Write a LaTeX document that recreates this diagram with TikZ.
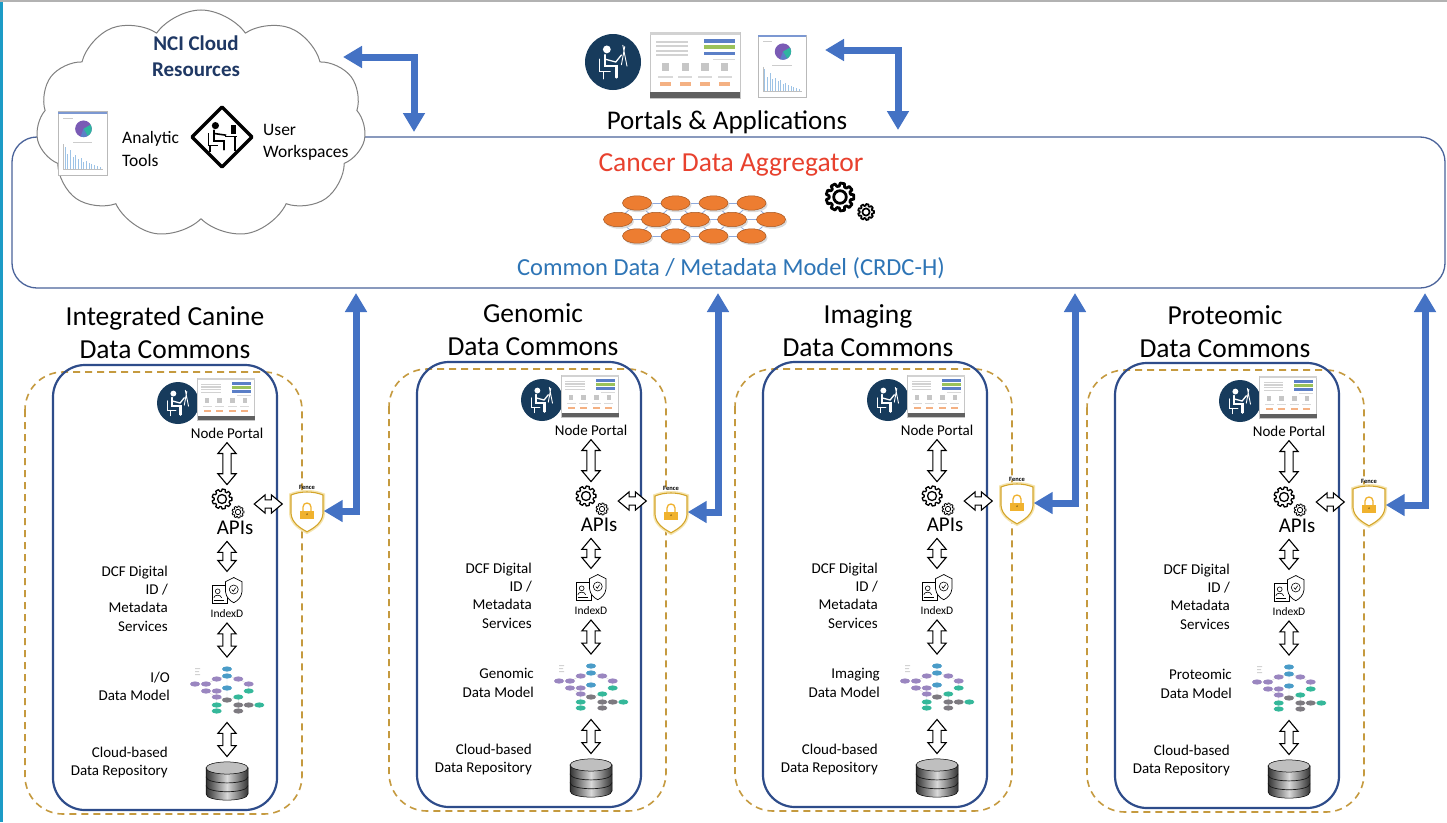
\documentclass[tikz,border=0pt]{standalone}
\usepackage{fontspec}
\setmainfont{Carlito}
\usetikzlibrary{shapes.symbols,shapes.arrows,arrows.meta,calc}

\definecolor{arrowblue}{HTML}{4472C4}
\definecolor{framenavy}{HTML}{2E4C8A}
\definecolor{aggframe}{HTML}{4A639A}
\definecolor{goldash}{HTML}{C59A3F}
\definecolor{cloudgray}{HTML}{808080}
\definecolor{titlenavy}{HTML}{1F3864}
\definecolor{aggred}{HTML}{E8412E}
\definecolor{modelblue}{HTML}{2E75B6}
\definecolor{iconnavy}{HTML}{173B5C}
\definecolor{nodeorange}{HTML}{ED7D31}
\definecolor{netline}{HTML}{8EA9DB}
\definecolor{edgeteal}{HTML}{1C9BC6}
\definecolor{barblue}{HTML}{5B7FC7}
\definecolor{bargreen}{HTML}{9BC25A}
\definecolor{barlight}{HTML}{9DC3E6}
\definecolor{btnorange}{HTML}{F4B183}
\definecolor{piepurple}{HTML}{7A5BB5}
\definecolor{pieteal}{HTML}{2FB5A0}
\definecolor{fencegold}{HTML}{D4A52A}
\definecolor{fenceglow}{HTML}{F5E4AE}
\definecolor{padgold}{HTML}{F0B22E}
\definecolor{mpurple}{HTML}{9A86C0}
\definecolor{mblue}{HTML}{4A9CC8}
\definecolor{mgreen}{HTML}{35B89A}
\definecolor{mgray}{HTML}{7D7A80}

\tikzset{
  barrow/.style={draw=arrowblue, line width=7pt,
    {Triangle[width=21pt,length=19pt]}-{Triangle[width=21pt,length=19pt]}},
  hollow/.style={double arrow, draw=black, fill=white, line width=1.1pt,
    inner xsep=0pt, inner ysep=3.6pt, double arrow head extend=5pt,
    double arrow tip angle=80, sloped, allow upside down},
  dashframe/.style={draw=goldash, line width=1.6pt, dash pattern=on 7pt off 5pt, rounded corners=38pt},
  solidframe/.style={draw=framenavy, line width=2.2pt, rounded corners=32pt},
  slot/.style={inner sep=0pt},
  ttl/.style={font=\fontsize{27.5}{33}\selectfont, align=center, inner sep=0pt},
  portallbl/.style={font=\fontsize{15}{18}\selectfont, inner sep=0pt},
  apilbl/.style={font=\fontsize{21}{25}\selectfont, inner sep=0pt},
  idxlbl/.style={font=\fontsize{11.5}{13}\selectfont, inner sep=0pt},
  sidelbl/.style={font=\fontsize{15}{18.3}\selectfont, align=right, anchor=east, inner sep=0pt},
  fencelbl/.style={font=\bfseries\fontsize{6.5}{7}\selectfont, inner sep=0pt},
  % small screen capture of a portal page
  portalshot/.pic={
    \draw[gray!45, fill=white, line width=0.4pt] (-0.5,-0.37) rectangle (0.5,0.37);
    \fill[gray!35] (-0.5,-0.37) rectangle (0.5,-0.335);
    \foreach \yy in {-0.27,-0.22,-0.17,-0.12}{\fill[gray!35] (-0.43,\yy) rectangle (-0.08,\yy+0.02);}
    \fill[barblue] (0.1,-0.29) rectangle (0.44,-0.25);
    \fill[bargreen] (0.1,-0.22) rectangle (0.44,-0.18);
    \fill[barblue] (0.1,-0.15) rectangle (0.44,-0.11);
    \fill[gray!30] (0.2,-0.07) rectangle (0.44,-0.055);
    \foreach \xx in {-0.33,-0.11,0.11,0.33}{
      \fill[gray!45] (\xx-0.04,-0.02) rectangle (\xx+0.04,0.07);
      \fill[gray!30] (\xx-0.08,0.12) rectangle (\xx+0.08,0.14);
      \fill[btnorange] (\xx-0.06,0.19) rectangle (\xx+0.06,0.23);
    }
    \fill[gray!75!black] (-0.5,0.3) rectangle (0.5,0.37);
  },
  % small screen capture of a chart report
  chartshot/.pic={
    \draw[gray!55, fill=white, line width=0.5pt] (-0.5,-0.65) rectangle (0.5,0.65);
    \fill[barblue!80] (-0.5,-0.65) rectangle (0.5,-0.61);
    \fill[gray!40] (-0.4,-0.53) rectangle (-0.2,-0.51);
    \fill[piepurple] (0.02,-0.3) circle (0.17);
    \fill[pieteal] (0.02,-0.3) -- ++(-30:0.17) arc[start angle=-30, end angle=60, radius=0.17] -- cycle;
    \fill[barblue] (0.02,-0.3) -- ++(60:0.17) arc[start angle=60, end angle=110, radius=0.17] -- cycle;
    \fill[gray!40] (-0.2,-0.03) rectangle (0.2,-0.01);
    \draw[gray!50, line width=0.3pt] (-0.4,0.02) -- (-0.4,0.52) -- (0.42,0.52);
    \foreach \i/\h in {0/0.45,1/0.3,2/0.38,3/0.25,4/0.28,5/0.2,6/0.22,7/0.15,8/0.17,9/0.12,10/0.1,11/0.08,12/0.06,13/0.05}{
      \draw[barlight, line width=0.7pt] (-0.36+\i*0.055,0.52) -- ++(0,-\h);}
  },
  % person at a desk inside a dark disc
  personpic/.pic={
    \fill[iconnavy] (0,0) circle (1);
    \begin{scope}[white, line cap=round]
      \fill (-0.22,-0.45) circle (0.14);
      \draw[line width=2.4pt] (-0.28,-0.25) -- (-0.28,0.15) -- (0.12,0.15) -- (0.12,0.55);
      \draw[line width=1.3pt] (-0.28,-0.1) -- (0.1,0.0) -- (0.3,-0.25);
      \draw[line width=1.1pt] (-0.48,-0.1) -- (-0.48,0.35) -- (-0.1,0.35) (-0.35,0.35) -- (-0.35,0.6);
      \draw[line width=0.9pt] (0.35,-0.6) -- (0.5,0.15) (0.42,-0.55) -- (0.3,0.1);
    \end{scope}
  },
  % workspace sign: person at a desk inside a diamond
  diamondpic/.pic={
    \draw[line width=3.2pt, fill=white, line join=round] (0,-1) -- (1,0) -- (0,1) -- (-1,0) -- cycle;
    \fill (-0.22,-0.38) circle (0.12);
    \draw[line width=2.2pt, line cap=round] (-0.28,-0.22) -- (-0.28,0.12) -- (0.06,0.12) -- (0.06,0.42);
    \draw[line width=1.6pt] (-0.28,-0.12) -- (0.14,-0.06);
    \draw[line width=1.6pt] (-0.45,-0.12) -- (-0.45,0.28) -- (-0.12,0.28) (-0.4,0.28) -- (-0.4,0.5);
    \draw[line width=1.6pt] (0.1,-0.02) -- (0.5,-0.02) (0.44,-0.02) -- (0.44,0.45);
    \fill (0.3,-0.4) rectangle (0.48,-0.1);
  },
  % cog wheel
  gearpic/.pic={
    \draw[fill=white, line join=round] (-14:0.78)
      \foreach \a in {0,40,...,320}{ -- (\a-14:0.78) -- (\a-9:1) -- (\a+9:1) -- (\a+14:0.78) } -- cycle;
    \draw (0,0) circle (0.45);
  },
  % ID card and shield
  idxpic/.pic={
    \draw[line width=0.7pt, fill=white] (-1,-0.35) rectangle (0.05,0.8);
    \draw[line width=0.6pt] (-0.62,0.02) circle (0.16);
    \draw[line width=0.6pt] (-0.88,0.45) .. controls (-0.85,0.22) and (-0.4,0.22) .. (-0.36,0.45);
    \draw[line width=0.5pt] (-0.88,0.62) -- (-0.2,0.62);
    \draw[line width=0.7pt, fill=white] (0.45,-0.9) -- (1,-0.62) -- (1,0.05)
      .. controls (0.95,0.45) and (0.7,0.65) .. (0.45,0.78)
      .. controls (0.2,0.65) and (-0.05,0.45) .. (-0.1,0.05) -- (-0.1,-0.62) -- cycle;
    \draw[line width=0.6pt] (0.45,-0.1) circle (0.3);
    \draw[line width=0.6pt] (0.32,-0.1) -- (0.42,0.02) -- (0.58,-0.22);
  },
  % Fence shield with padlock
  fencepic/.pic={
    \draw[fencegold, line width=1.1pt, fill=white, preaction={draw=fenceglow, line width=4pt}]
      (-1,-1) .. controls (-0.4,-1.25) and (0.4,-1.25) .. (1,-1) -- (1,0.15)
      .. controls (0.95,0.75) and (0.45,1.05) .. (0,1.3)
      .. controls (-0.45,1.05) and (-0.95,0.75) .. (-1,0.15) -- cycle;
    \draw[padgold, line width=1.3pt] (-0.25,0) -- (-0.25,-0.25) .. controls (-0.25,-0.58) and (0.25,-0.58) .. (0.25,-0.25) -- (0.25,0);
    \fill[padgold] (-0.42,-0.02) rectangle (0.42,0.5);
    \fill[padgold!60!black] (0,0.2) circle (0.06);
  },
  % stacked database cylinder
  dbpic/.pic={
    \draw[line width=0.5pt, left color=gray!40!black, right color=gray!40!black, middle color=gray!30]
      (-1,-0.62) -- (-1,0.62) .. controls (-1,1.007) and (1,1.007) .. (1,0.62) -- (1,-0.62) -- cycle;
    \draw[gray!20!black, line width=0.7pt] (-1,-0.2) .. controls (-1,0.187) and (1,0.187) .. (1,-0.2);
    \draw[gray!20!black, line width=0.7pt] (-1,0.22) .. controls (-1,0.607) and (1,0.607) .. (1,0.22);
    \draw[line width=0.5pt, fill=gray!50] (0,-0.62) ellipse [x radius=1, y radius=0.29];
  },
  % graph of a data model
  modelpic/.pic={
    \draw[gray!30, line width=0.4pt] (0,-21) -- (0,10) (-32,-6) -- (-21,-6) -- (-10.3,-11) -- (0,-14) -- (11.3,-11) -- (21.7,-6) -- (21.7,1)
      (-21,1) -- (-10.3,7) -- (0,10) -- (11.3,7) -- (11.3,15) -- (32.3,15) (-10.3,1) -- (-10.3,21) (11.3,15) -- (11.3,21);
    \fill[gray!35] (-32,-22) rectangle (-27,-21) (-32,-19) rectangle (-28,-18) (-32,-16) rectangle (-27,-15);
    \foreach \p/\q/\c in {0/-21/mblue, 0/-14/mblue, -10.3/-11/mpurple, 11.3/-11/mpurple,
      -32/-6/mpurple, -21/-6/mpurple, 21.7/-6/mpurple, 0/-2/mblue, -21/1/mpurple,
      -10.3/1/mpurple, 21.7/1/mgreen, -10.3/7/mpurple, 11.3/7/mgreen, 0/10/mgray,
      -10.3/15/mgreen, 11.3/15/mgray, 21.7/15/mgray, 32.3/15/mgreen, -10.3/21/mgreen, 11.3/21/mgray}
      {\fill[\c] (\p,\q) ellipse [x radius=5, y radius=2.6];}
  }
}

% one data commons column: #1 name prefix, #2/#3 top-left corner of the frame,
% #4 data model label, #5 vertical position of the Fence shield
\newcommand\commonscol[5]{%
  \begin{scope}[shift={(#2,#3)}]
    \draw[dashframe] (-28,7) rectangle (249,449);
    \draw[solidframe] (0,0) rectangle (224,445);
    \pic[scale=21] at (125,38) {personpic};
    \pic[scale=57] at (173,34) {portalshot};
    \node[portallbl] (#1np) at (174,68) {Node Portal};
    \node[slot, minimum width=34pt, minimum height=30pt] (#1api) at (176,139) {};
    \pic[scale=10, line width=1.3pt] at (169,134) {gearpic};
    \pic[scale=6, line width=0.8pt] at (185,147) {gearpic};
    \node[apilbl] (#1apis) at (182,163) {APIs};
    \node[slot, minimum width=32pt, minimum height=26pt] (#1idxi) at (174,226) {};
    \pic[scale=15] at (174,226) {idxpic};
    \node[idxlbl] (#1idx) at (174,249) {IndexD};
    \node[sidelbl] (#1dcf) at (115,233.5) {DCF Digital\\ID /\\Metadata\\Services};
    \node[slot, minimum width=72pt, minimum height=56pt] (#1model) at (174,325) {};
    \pic at (174,325) {modelpic};
    \node[sidelbl] (#1modellbl) at (117,321) {#4};
    \node[slot, minimum width=42pt, minimum height=40pt] (#1db) at (174,416) {};
    \pic[scale=21] at (174,416) {dbpic};
    \node[sidelbl] (#1repo) at (115,397.5) {Cloud-based\\Data Repository};
    \node[slot, minimum width=33pt, minimum height=40pt] (#1fence) at (254,#5) {};
    \pic[scale=16] at (254,#5) {fencepic};
    \node[fencelbl] (#1fencelbl) at (254,#5-24) {Fence};
    \path (#1np.south) -- node[hollow, minimum height=42pt]{} (#1np.south |- #1api.north);
    \path (#1idxi.north |- #1apis.south) -- node[hollow, minimum height=30pt]{} (#1idxi.north);
    \path (#1idx.south) -- node[hollow, minimum height=34pt]{} (#1model.north);
    \path (#1model.south) -- node[hollow, minimum height=34pt]{} (#1db.north);
    \path (#1api.east) -- node[hollow, minimum height=28pt]{} (#1api.east -| #1fence.west);
  \end{scope}}

\begin{document}
\begin{tikzpicture}[x=1pt, y=-1pt]
  \useasboundingbox (0,0) rectangle (1447,822);
  \fill[white] (0,0) rectangle (1447,822);
  \fill[edgeteal] (0,0) rectangle (3,822);
  \fill[gray!60] (0,0) rectangle (1447,2);

  % aggregator panel
  \node[draw=aggframe, line width=1.3pt, rounded corners=25pt, minimum width=1433pt,
        minimum height=151pt, inner sep=0pt] (agg) at (728.5,212.5) {};

  % cloud resources
  \node[cloud, cloud puffs=11, cloud puff arc=110, aspect=1.45, draw=cloudgray, fill=white,
        line width=1pt, minimum width=330pt, minimum height=228pt, inner sep=0pt] (cloud) at (201,124) {};
  \node[font=\bfseries\fontsize{21}{26}\selectfont, text=titlenavy, align=center, inner sep=0pt]
        (ncititle) at (196,56) {NCI Cloud\\Resources};
  \pic[scale=49] at (82.5,143.5) {chartshot};
  \node[font=\fontsize{17.5}{23}\selectfont, align=left, anchor=west, inner sep=0pt]
        (analytic) at (122,148.5) {Analytic\\Tools};
  \pic[scale=30] at (222,137) {diamondpic};
  \node[font=\fontsize{17.5}{22}\selectfont, align=left, anchor=west, inner sep=0pt]
        (workspace) at (263,142) {User\\Workspaces};

  % portals and applications
  \pic[scale=28] at (613,62) {personpic};
  \pic[scale=90] at (695,65) {portalshot};
  \pic[scale=48] at (782,66) {chartshot};
  \node[font=\fontsize{27}{32}\selectfont, inner sep=0pt] (portals) at (727,122) {Portals \& Applications};

  % aggregator contents
  \node[font=\fontsize{27.5}{32}\selectfont, text=aggred, inner sep=0pt] (cda) at (731,165) {Cancer Data Aggregator};
  \foreach \x in {618,656,695,732} {\draw[netline, line width=0.8pt] (\x,219.5) -- (\x+38,219.5);}
  \foreach \x in {637,675.5,713.5} {
    \draw[netline, line width=0.8pt] (\x,203) -- (\x+38,203);
    \draw[netline, line width=0.8pt] (\x,236) -- (\x+38,236);}
  \foreach \x/\l/\r in {637/618/656,675.5/656/695,713.5/695/732,751.5/732/771} {
    \draw[netline, line width=0.8pt] (\l,219.5) -- (\x,203) -- (\r,219.5);
    \draw[netline, line width=0.8pt] (\l,219.5) -- (\x,236) -- (\r,219.5);}
  \foreach \x/\y in {637/203,675.5/203,713.5/203,751.5/203,618/219.5,656/219.5,695/219.5,732/219.5,771/219.5,637/236,675.5/236,713.5/236,751.5/236} {
    \fill[gray!30] (\x+1.5,\y+2) ellipse [x radius=14.5, y radius=7.2];
    \draw[nodeorange!70!black, line width=0.5pt, fill=nodeorange] (\x,\y) ellipse [x radius=14.5, y radius=7.2];}
  \pic[scale=14, line width=2.8pt] at (840,197) {gearpic};
  \pic[scale=8, line width=1.7pt] at (866,212) {gearpic};
  \node[font=\fontsize{24.5}{28}\selectfont, text=modelblue, inner sep=0pt] (cdm) at (731,268) {Common Data / Metadata Model (CRDC-H)};

  % links between the top panels
  \coordinate (cloudport) at (343,57);
  \coordinate (aggcloud) at (414,132);
  \coordinate (portport) at (825,50);
  \coordinate (aggport) at (898,130);
  \draw[barrow] (cloudport) -| (aggcloud);
  \draw[barrow] (portport) -| (aggport);

  % column titles
  \node[ttl] (t1) at (165,332.5) {Integrated Canine\\Data Commons};
  \node[ttl] (t2) at (533,329.5) {Genomic\\Data Commons};
  \node[ttl] (t3) at (868,331) {Imaging\\Data Commons};
  \node[ttl] (t4) at (1225,332) {Proteomic\\Data Commons};

  % data commons columns
  \commonscol{c1}{53}{365}{I/O\\Data Model}{146}
  \commonscol{c2}{417}{362}{Genomic\\Data Model}{150}
  \commonscol{c3}{763}{362}{Imaging\\Data Model}{141}
  \commonscol{c4}{1115}{363}{Proteomic\\Data Model}{142}

  % Fence links up to the aggregator
  \coordinate (up1) at (356,293);
  \coordinate (up2) at (718,293);
  \coordinate (up3) at (1075,293);
  \coordinate (up4) at (1425,293);
  \draw[barrow] (c1fence.east) -| (up1);
  \draw[barrow] (c2fence.east) -| (up2);
  \draw[barrow] (c3fence.east) -| (up3);
  \draw[barrow] (c4fence.east) -| (up4);
\end{tikzpicture}
\end{document}
